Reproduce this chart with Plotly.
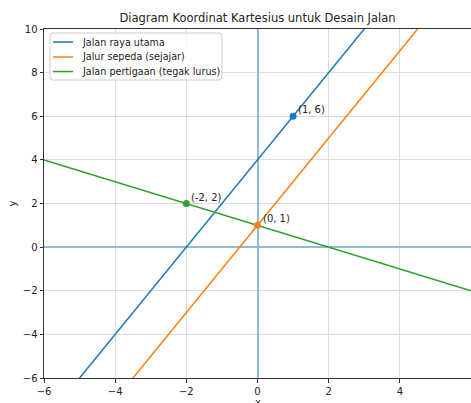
import plotly.graph_objects as go

# Data
line_x = [-6, 6]
jalan_raya = [-8, 16]        # y = 2x + 4
jalur_sepeda = [-11, 13]     # y = 2x + 1
jalan_pertigaan = [4, -2]    # y = -x/2 + 1

series_names = ["Jalan raya utama", "Jalur sepeda (sejajar)", "Jalan pertigaan (tegak lurus)"]
series_colors = ["#1f77b4", "#ff7f0e", "#2ca02c"]

pt_x = [1, 0, -2]
pt_y = [6, 1, 2]
pt_labels = ["(1, 6)", "(0, 1)", "(-2, 2)"]

x_ticks = [-6, -4, -2, 0, 2, 4, 6]
y_ticks = [-6, -4, -2, 0, 2, 4, 6, 8, 10]

FONT = "DejaVu Sans"
TXT = "#222"

W, H = 471, 403
L, R, T, B = 44, 0, 29, 25
PW, PH = W - L - R, H - T - B


def px_x(p):
    return (p - L) / PW


def px_y(p):
    return (H - B - p) / PH


fig = go.Figure()
for ys, name, col in zip([jalan_raya, jalur_sepeda, jalan_pertigaan], series_names, series_colors):
    fig.add_trace(go.Scatter(x=line_x, y=ys, mode="lines", name=name, showlegend=False,
                             line=dict(color=col, width=1.5)))
fig.add_trace(go.Scatter(x=pt_x, y=pt_y, mode="markers", showlegend=False,
                         marker=dict(color=series_colors, size=7)))

for x, y, t in zip(pt_x, pt_y, pt_labels):
    fig.add_annotation(x=x, y=y, text=t, showarrow=False, xanchor="left", yanchor="bottom",
                       xshift=3, yshift=-1, font=dict(family=FONT, size=10, color=TXT))

# Custom legend (matplotlib-like, upper left)
bx0, bx1, by0, by1, r = 50, 222, 33, 80, 3
path = (f"M {px_x(bx0 + r)},{px_y(by0)} L {px_x(bx1 - r)},{px_y(by0)} "
        f"Q {px_x(bx1)},{px_y(by0)} {px_x(bx1)},{px_y(by0 + r)} "
        f"L {px_x(bx1)},{px_y(by1 - r)} Q {px_x(bx1)},{px_y(by1)} {px_x(bx1 - r)},{px_y(by1)} "
        f"L {px_x(bx0 + r)},{px_y(by1)} Q {px_x(bx0)},{px_y(by1)} {px_x(bx0)},{px_y(by1 - r)} "
        f"L {px_x(bx0)},{px_y(by0 + r)} Q {px_x(bx0)},{px_y(by0)} {px_x(bx0 + r)},{px_y(by0)} Z")
fig.add_shape(type="path", path=path, xref="paper", yref="paper",
              fillcolor="rgba(255,255,255,0.8)", line=dict(color="#cccccc", width=1), layer="above")
rows = [42, 57, 71.5]
for ry, name, col in zip(rows, series_names, series_colors):
    fig.add_shape(type="line", xref="paper", yref="paper", x0=px_x(53), x1=px_x(73),
                  y0=px_y(ry), y1=px_y(ry), line=dict(color=col, width=1.5), layer="above")
    fig.add_annotation(xref="paper", yref="paper", x=px_x(80), y=px_y(ry), text=name,
                       showarrow=False, xanchor="left", yanchor="middle",
                       font=dict(family=FONT, size=9.6, color=TXT))

# x-axis title placed like the reference (just below tick labels)
fig.add_annotation(xref="paper", yref="paper", x=0.5, y=px_y(395), text="x",
                   showarrow=False, xanchor="center", yanchor="top",
                   font=dict(family=FONT, size=10, color=TXT))

axis_common = dict(
    showgrid=True, gridcolor="#dddddd", gridwidth=1,
    zeroline=True, zerolinecolor="#8fbbd9", zerolinewidth=1.8,
    showline=True, mirror=True, linecolor="#333", linewidth=1,
    ticks="outside", ticklen=3.5, tickcolor="#333",
    tickfont=dict(family=FONT, size=10, color=TXT),
    automargin=False,
)

fig.update_layout(
    width=W, height=H,
    margin=dict(l=L, r=R, t=T, b=B),
    paper_bgcolor="white", plot_bgcolor="white",
    title=dict(text="Diagram Koordinat Kartesius untuk Desain Jalan",
               x=0.5, xanchor="center", y=1 - 18 / H, yanchor="middle", yref="container",
               xref="paper",
               font=dict(family=FONT, size=11.5, color=TXT)),
    xaxis=dict(range=[-6, 6], tickvals=x_ticks, **axis_common),
    yaxis=dict(range=[-6, 10], tickvals=y_ticks,
               title=dict(text="y", standoff=4, font=dict(family=FONT, size=10, color=TXT)),
               **axis_common),
    showlegend=False,
)

fig.write_html("out.html",
               config={"displayModeBar": False},
               post_script="document.body.style.margin='0';document.body.style.overflow='hidden';")
